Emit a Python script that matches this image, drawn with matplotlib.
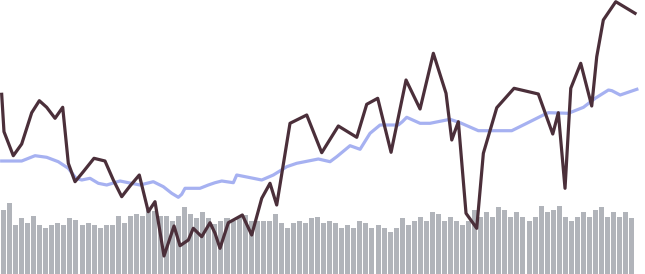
import matplotlib.pyplot as plt
import numpy as np

# volume per day (bars)
volume = [64, 71, 49, 56, 51, 58, 49, 46, 49, 51, 49, 56, 54, 49, 51, 49, 46, 49,
          49, 58, 51, 58, 60, 58, 64, 63, 58, 58, 53, 58, 67, 60, 56, 62, 56, 50,
          53, 56, 53, 57, 59, 53, 53, 53, 53, 60, 51, 46, 51, 53, 51, 56, 57, 51,
          53, 51, 46, 49, 46, 53, 51, 46, 49, 46, 42, 46, 56, 49, 53, 57, 53, 62,
          60, 53, 57, 53, 49, 53, 64, 57, 62, 57, 67, 64, 57, 62, 57, 53, 57, 68,
          62, 64, 68, 57, 53, 57, 62, 57, 64, 67, 57, 62, 57, 62, 56]

# price line (time in days, value)
price_t = [-0.30, 0.08, 1.62, 3.01, 4.67, 5.93, 7.15, 8.53, 9.80, 10.73, 11.84,
           13.21, 14.98, 16.80, 18.18, 19.57, 20.94, 22.48, 23.97, 25.08, 26.57,
           28.23, 29.22, 30.60, 31.42, 32.81, 34.19, 35.02, 35.84, 37.22, 38.05,
           39.54, 41.09, 42.75, 44.12, 45.23, 47.43, 50.20, 52.68, 55.43, 58.48,
           60.13, 61.95, 64.16, 66.64, 68.96, 71.16, 73.26, 74.21, 75.30, 76.57,
           78.34, 79.44, 81.66, 84.52, 88.54, 90.93, 91.85, 92.96, 93.91, 95.56,
           97.38, 98.21, 99.30, 101.36, 104.55]
price = [179.7, 142.3, 118.3, 130.0, 161.3, 173.3, 166.7, 155.7, 166.7, 110.7, 92.3,
         102.3, 115.7, 113.0, 94.0, 77.3, 88.0, 99.0, 62.3, 72.3, 18.0,
         48.0, 28.3, 34.0, 45.7, 37.3, 51.3, 40.7, 25.7, 51.3, 54.0,
         59.0, 39.0, 75.7, 90.7, 69.0, 150.7, 159.0, 121.3, 148.0, 136.7,
         169.7, 175.7, 121.7, 194.0, 165.0, 220.7, 180.7, 134.0, 152.3, 60.7,
         45.7, 120.7, 166.3, 185.7, 180.0, 140.0, 161.3, 85.7, 185.7, 210.7,
         168.0, 217.3, 254.0, 272.3, 260.7]

# moving average
ma_t = [-0.30, 3.01, 5.22, 7.15, 9.07, 10.73, 12.00, 12.95, 14.32, 15.70, 17.09,
        19.29, 20.66, 22.60, 24.80, 26.46, 27.85, 28.94, 29.50, 30.05, 32.53,
        33.91, 35.02, 36.13, 38.05, 38.61, 40.53, 42.75, 44.67, 46.89, 48.54,
        52.12, 54.06, 55.17, 57.37, 59.03, 60.68, 62.34, 65.36, 66.03, 66.75,
        68.96, 70.61, 73.92, 75.58, 78.61, 84.14, 86.62, 89.37, 90.20, 93.51,
        96.01, 97.95, 100.15, 100.72, 102.09, 104.85]
ma = [113.0, 113.0, 118.3, 116.7, 112.3, 105.7, 95.7, 94.0, 95.7, 90.7, 89.0,
      93.0, 91.3, 89.0, 92.3, 87.3, 80.7, 76.7, 79.7, 85.7, 85.7,
      89.0, 91.3, 93.0, 91.3, 99.0, 96.7, 94.0, 99.0, 107.3, 110.7,
      115.0, 112.3, 117.3, 128.3, 124.7, 140.7, 149.0, 149.0, 152.3, 156.7,
      150.7, 150.7, 154.7, 151.3, 143.3, 143.3, 150.7, 159.0, 161.3, 160.7,
      166.7, 175.7, 184.0, 183.3, 179.0, 184.7]

fig = plt.figure(figsize=(6.45, 2.74), dpi=100)
ax = fig.add_axes([0, 0, 1, 1])
ax.set_axis_off()

days = np.arange(len(volume))
ax.bar(days, volume, width=0.83, color='#b1b4ba', zorder=1)
ax.set_ylim(0, 274)
ax.set_xlim(-0.58, 106.2)

ax2 = ax.twinx()
ax2.set_axis_off()
ax2.plot(ma_t, ma, color='#a6b1f1', lw=2.3, solid_joinstyle='round', zorder=2, clip_on=False)
ax2.plot(price_t, price, color='#4b2f3a', lw=2.3, solid_joinstyle='round', zorder=3, clip_on=False)
ax2.set_ylim(0, 274)
ax2.set_xlim(-0.58, 106.2)

fig.savefig('out.png', dpi=100)
